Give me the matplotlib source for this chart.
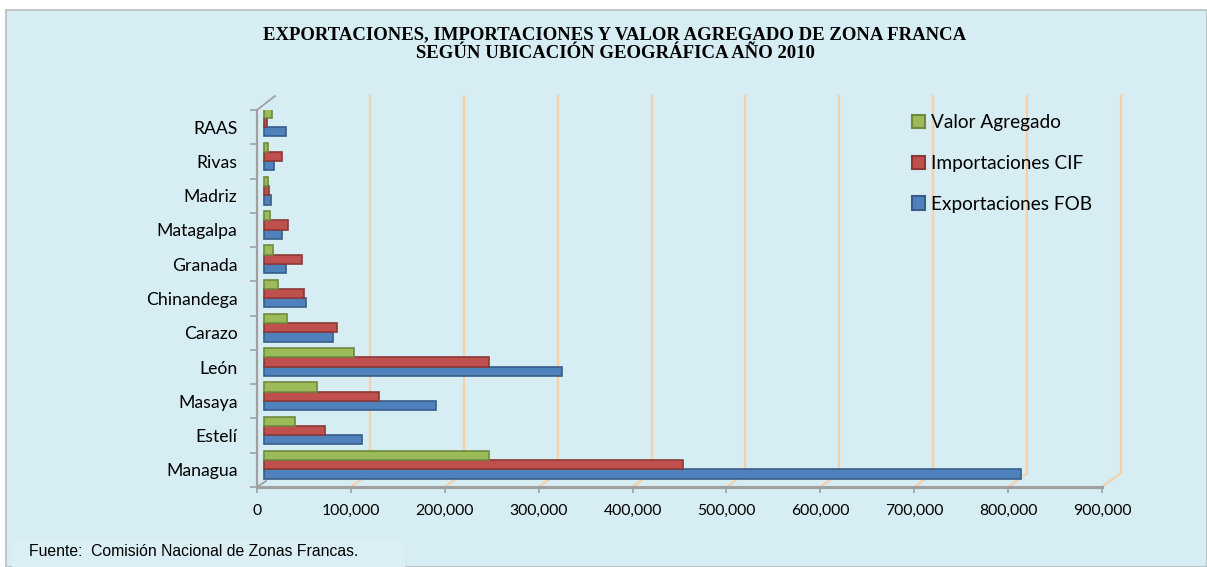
import matplotlib
matplotlib.use("Agg")
import matplotlib.pyplot as plt
import matplotlib.transforms as mtransforms
from matplotlib.patches import Rectangle, Patch
from matplotlib.ticker import FuncFormatter
import numpy as np

# data (miles de US$)
departamentos = ["Managua", "Estelí", "Masaya", "León", "Carazo", "Chinandega",
                 "Granada", "Matagalpa", "Madriz", "Rivas", "RAAS"]
exportaciones_fob = [806000, 104000, 183000, 317000, 74000, 45000, 23000, 19000, 7000, 11000, 23000]
importaciones_cif = [446000, 65000, 123000, 240000, 78000, 43000, 41000, 26000, 5000, 19000, 3000]
valor_agregado = [240000, 33000, 56000, 96000, 24000, 15000, 10000, 6000, 4000, 4000, 9000]
x_ticks = [0, 100000, 200000, 300000, 400000, 500000, 600000, 700000, 800000, 900000]

bg = "#d6edf3"
c_fob, e_fob = "#4f81bd", "#385d8a"
c_cif, e_cif = "#c0504d", "#8c3836"
c_va, e_va = "#9bbb59", "#71893f"
grid_c = "#f7d0a6"
axis_c = "#a0a0a0"

fig = plt.figure(figsize=(12.07, 5.67), dpi=100)
fig.patch.set_facecolor("white")
# chart area frame
fig.patches.append(Rectangle((6 / 1207, 0), 1 - 6 / 1207, 1 - 10 / 567, transform=fig.transFigure,
                             facecolor=bg, edgecolor="#b8bcbe", lw=1.2, zorder=-10))
fig.patches.append(Rectangle((12 / 1207, 0), 393 / 1207, 27 / 567, transform=fig.transFigure,
                             facecolor="#daeff5", edgecolor="none", zorder=-9))

ax = fig.add_axes([257 / 1207, 80 / 567, 845 / 1207, 377 / 567])
ax.set_facecolor("none")
ax.set_xlim(0, 900000)
ax.set_ylim(-0.5, len(departamentos) - 0.5)

y = np.arange(len(departamentos))
h = 0.27
# 3D depth shift of the bars and back wall
bar_tr = ax.transData + mtransforms.ScaledTranslation(7 / 100, 5 / 100, fig.dpi_scale_trans)
ax.barh(y - h, exportaciones_fob, height=h, color=c_fob, edgecolor=e_fob, lw=1.2, transform=bar_tr, zorder=3)
ax.barh(y, importaciones_cif, height=h, color=c_cif, edgecolor=e_cif, lw=1.2, transform=bar_tr, zorder=3)
ax.barh(y + h, valor_agregado, height=h, color=c_va, edgecolor=e_va, lw=1.2, transform=bar_tr, zorder=3)

# back wall gridlines
blend = mtransforms.blended_transform_factory(ax.transData, ax.transAxes)
back = blend + mtransforms.ScaledTranslation(19 / 100, 14 / 100, fig.dpi_scale_trans)
for xv in x_ticks[1:]:
    ax.plot([xv, xv], [0, 1], color=grid_c, lw=1.6, transform=back, zorder=1, clip_on=False)
    ax.plot([xv, xv + 19 / 845 * 900000], [0, 14 / 377], color=grid_c, lw=1.6,
            transform=blend, zorder=1, clip_on=False)
# top-left corner of the box
ax.plot([0, 18 / 845 * 900000], [1, 1 + 14 / 377], color=axis_c, lw=1.3, transform=blend, clip_on=False)
ax.plot([0, 9 / 845 * 900000], [0, 6 / 377], color=axis_c, lw=1.3, transform=blend, clip_on=False)

for s in ["top", "right"]:
    ax.spines[s].set_visible(False)
ax.spines["left"].set_color(axis_c)
ax.spines["left"].set_linewidth(1.6)
ax.spines["bottom"].set_color(axis_c)
ax.spines["bottom"].set_linewidth(2.2)

ax.set_xticks(x_ticks)
ax.xaxis.set_major_formatter(FuncFormatter(lambda v, p: f"{int(v):,}"))
ax.tick_params(axis="x", length=4, color=axis_c, width=1.2, pad=8, labelsize=11.3)
ax.set_yticks(y)
ax.set_yticklabels(departamentos)
ax.set_yticks(np.arange(-0.5, len(departamentos)), minor=True)
ax.tick_params(axis="y", which="major", length=0, pad=14, labelsize=12.7)
ax.tick_params(axis="y", which="minor", length=5, color=axis_c, width=1.2)
for lab in ax.get_xticklabels() + ax.get_yticklabels():
    lab.set_family("Lato")

handles = [Patch(facecolor=c_va, edgecolor=e_va, lw=1.5, label="Valor Agregado"),
           Patch(facecolor=c_cif, edgecolor=e_cif, lw=1.5, label="Importaciones CIF"),
           Patch(facecolor=c_fob, edgecolor=e_fob, lw=1.5, label="Exportaciones FOB")]
fig.legend(handles=handles, loc="upper left", bbox_to_anchor=(895 / 1207, 1 - 97 / 567),
           frameon=False, handlelength=0.7, handleheight=0.7, handletextpad=0.3,
           labelspacing=1.25, prop={"family": "Lato", "size": 13.7})

fig.text(615 / 1207, 1 - 44 / 567,
         "EXPORTACIONES, IMPORTACIONES Y VALOR AGREGADO DE ZONA FRANCA\nSEGÚN UBICACIÓN GEOGRÁFICA AÑO 2010",
         ha="center", va="center", family="Liberation Serif", weight="bold", fontsize=13.5,
         linespacing=1.15)
fig.text(29 / 1207, 1 - 552 / 567, "Fuente:  Comisión Nacional de Zonas Francas.",
         ha="left", va="center", family="Liberation Sans", fontsize=11.3)

fig.savefig("out.png", dpi=100, facecolor=fig.get_facecolor())
